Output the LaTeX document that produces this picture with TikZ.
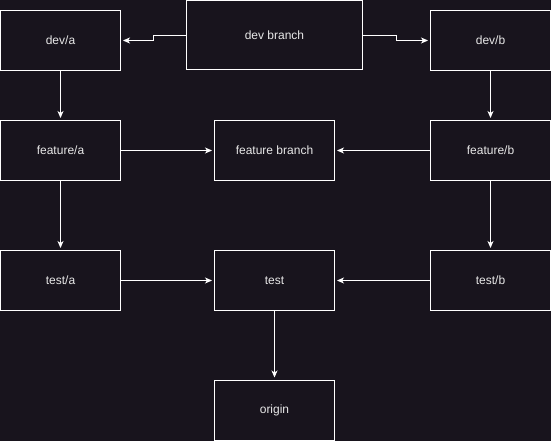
\documentclass[tikz,border=0pt]{standalone}
\usepackage{fontspec}
\setmainfont{Liberation Sans}
\usetikzlibrary{arrows.meta}
\definecolor{bg}{HTML}{18141D}
\definecolor{txt}{HTML}{E8E8E8}
\begin{document}
\begin{tikzpicture}[x=1pt,y=-1pt,
  box/.style={draw=white,fill=bg,line width=1pt,text=txt,font=\fontsize{12}{14}\selectfont,inner sep=0pt,minimum width=120pt,minimum height=60pt},
  conn/.style={draw=white,line width=1pt,-{Stealth[length=7pt,width=6pt,inset=2pt]},shorten >=2pt}]
\fill[bg] (0,0) rectangle (551,441);
\useasboundingbox (0,0) rectangle (551,441);
\node[box] (deva) at (60.5,40.5) {dev/a};
\node[box,minimum width=176pt,minimum height=69pt] (dev) at (274.5,35.5) {dev branch};
\node[box] (devb) at (490.5,40.5) {dev/b};
\node[box] (fa) at (60.5,150.5) {feature/a};
\node[box] (feat) at (274.5,150.5) {feature branch};
\node[box] (fb) at (490.5,150.5) {feature/b};
\node[box] (ta) at (60.5,280.5) {test/a};
\node[box] (test) at (274.5,280.5) {test};
\node[box] (tb) at (490.5,280.5) {test/b};
\node[box] (origin) at (274.5,410) {origin};
\coordinate (s1) at (153.5,35.5);
\coordinate (s2) at (396.5,35.5);
\draw[conn] (dev.west |- s1) -- (s1) -- (s1 |- deva.east) -- (deva.east);
\draw[conn] (dev.east |- s2) -- (s2) -- (s2 |- devb.west) -- (devb.west);
\draw[conn] (deva) -- (fa);
\draw[conn] (devb) -- (fb);
\draw[conn] (fa) -- (feat);
\draw[conn] (fb) -- (feat);
\draw[conn] (fa) -- (ta);
\draw[conn] (fb) -- (tb);
\draw[conn] (ta) -- (test);
\draw[conn] (tb) -- (test);
\draw[conn] (test) -- (origin);
\end{tikzpicture}
\end{document}
